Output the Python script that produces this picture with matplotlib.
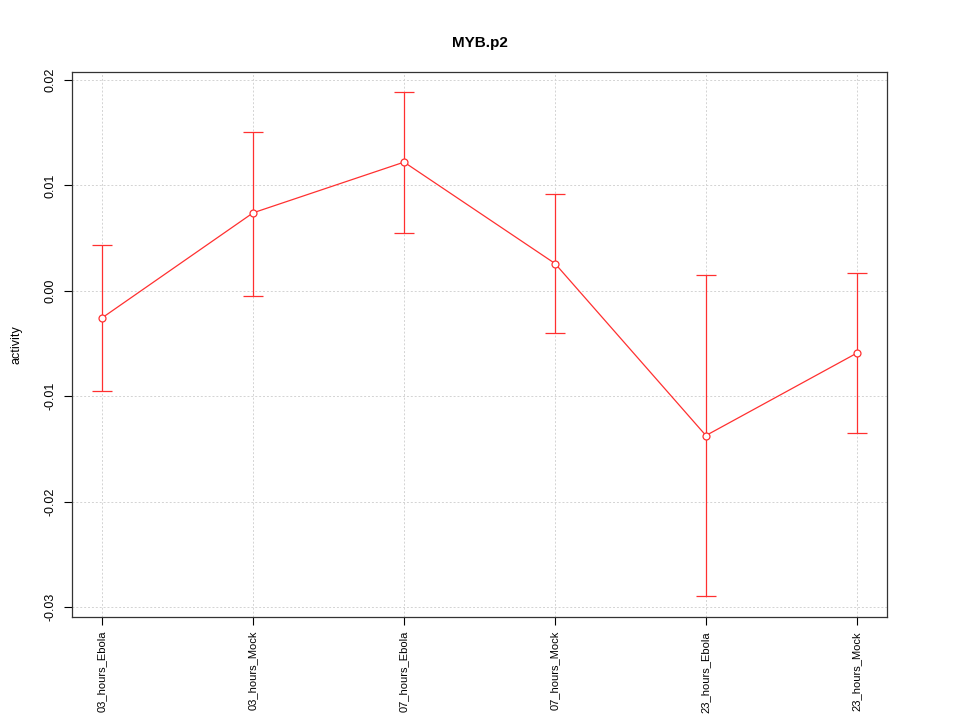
import numpy as np
import matplotlib.pyplot as plt

plt.rcParams['font.family'] = ['Liberation Sans', 'DejaVu Sans']

# Data
labels = ['03_hours_Ebola', '03_hours_Mock', '07_hours_Ebola',
          '07_hours_Mock', '23_hours_Ebola', '23_hours_Mock']
activity = [-0.00256, 0.00740, 0.01221, 0.00259, -0.01373, -0.00591]
upper = [0.00439, 0.01509, 0.01888, 0.00917, 0.00149, 0.00168]
lower = [-0.00952, -0.00047, 0.00550, -0.00398, -0.02897, -0.01350]

x = np.arange(1, len(labels) + 1)
act = np.array(activity)
err = [act - np.array(lower), np.array(upper) - act]

fig = plt.figure(figsize=(9.6, 7.2), dpi=100)
ax = fig.add_axes([0.075, 0.143, 0.849, 0.757])

# grid like R grid()
for xi in x:
    ax.axvline(xi, color='#d3d3d3', linestyle=(0, (2, 2)), linewidth=0.7, zorder=0)
for yi in [-0.03, -0.02, -0.01, 0.0, 0.01, 0.02]:
    ax.axhline(yi, color='#d3d3d3', linestyle=(0, (2, 2)), linewidth=0.7, zorder=0)

ax.errorbar(x, act, yerr=err, fmt='none', ecolor='#ff3030', elinewidth=0.9,
            capsize=7, capthick=0.9, zorder=2)
ax.plot(x, act, color='#ff3030', linewidth=0.9, zorder=3)
ax.plot(x, act, 'o', markersize=5, markerfacecolor='white',
        markeredgecolor='#ff3030', markeredgewidth=0.9, zorder=4)

ax.set_xlim(0.8, 6.2)
ax.set_ylim(-0.03095, 0.02076)
ax.set_xticks(x)
ax.set_xticklabels(labels, rotation=90, fontsize=8)
ax.set_yticks([-0.03, -0.02, -0.01, 0.0, 0.01, 0.02])
ax.set_yticklabels(['-0.03', '-0.02', '-0.01', '0.00', '0.01', '0.02'],
                   rotation=90, va='center', fontsize=9)
ax.tick_params(axis='x', length=6, width=0.8, colors='black', pad=4)
ax.tick_params(axis='y', length=6, width=0.8, colors='black', pad=5)
for s in ax.spines.values():
    s.set_color('#333333')
    s.set_linewidth(0.9)

ax.set_ylabel('activity', fontsize=9, labelpad=16)
ax.set_title('MYB.p2', fontsize=11, fontweight='bold', pad=18)

fig.savefig('out.png', dpi=100)
